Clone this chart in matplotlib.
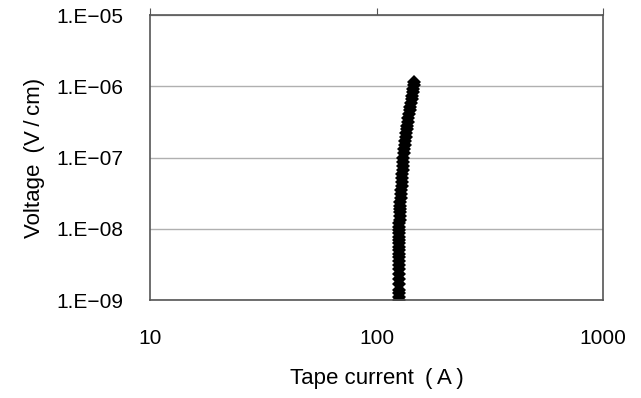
import numpy as np
import matplotlib
matplotlib.use('Agg')
import matplotlib.pyplot as plt
from matplotlib.ticker import NullLocator

# Latin text in an Arial-like face, CJK font as fallback for odd spaces
plt.rcParams['font.family'] = ['Liberation Sans', 'Noto Sans CJK JP']

# V-I data (voltage in V/cm, current in A)
voltage = [
    1.0e-9, 1.1e-9, 1.25e-9, 1.4e-9, 1.7e-9, 2.0e-9, 2.3e-9, 2.7e-9,
    3.1e-9, 3.5e-9, 4.0e-9, 4.5e-9, 5.0e-9, 5.6e-9, 6.3e-9, 7.0e-9,
    7.8e-9, 8.7e-9, 9.6e-9, 1.07e-8, 1.2e-8, 1.35e-8, 1.5e-8, 1.7e-8,
    1.9e-8, 2.1e-8, 2.4e-8, 2.7e-8, 3.1e-8, 3.5e-8, 4.0e-8, 4.5e-8,
    5.1e-8, 5.8e-8, 6.6e-8, 7.6e-8, 8.7e-8, 1.0e-7, 1.15e-7, 1.3e-7,
    1.5e-7, 1.7e-7, 1.95e-7, 2.2e-7, 2.5e-7, 2.8e-7, 3.2e-7, 3.6e-7,
    4.1e-7, 4.6e-7, 5.2e-7, 5.9e-7, 6.6e-7, 7.4e-7, 8.3e-7, 9.3e-7,
    1.05e-6, 1.15e-6,
]
current = [
    125.0, 125.0, 125.1, 125.0, 125.1, 125.1, 125.2, 125.2,
    125.2, 125.3, 125.3, 125.4, 125.5, 125.5, 125.6, 125.7,
    125.8, 125.9, 126.0, 126.1, 126.2, 126.4, 126.6, 126.8,
    127.0, 127.2, 127.5, 127.9, 128.3, 128.6, 129.0, 129.4,
    129.8, 130.1, 130.5, 130.9, 131.2, 131.4, 131.9, 132.4,
    133.1, 133.8, 134.6, 135.4, 136.1, 136.7, 137.5, 138.3,
    139.3, 140.3, 141.1, 142.1, 142.8, 143.5, 144.4, 145.2,
    146.0, 146.6,
]

x_ticks = [10, 100, 1000]
x_labels = ['10', '100', '1000']
y_ticks = [1e-9, 1e-8, 1e-7, 1e-6, 1e-5]
y_labels = ['1.E\u221209', '1.E\u221208', '1.E\u221207', '1.E\u221206',
            '1.E\u221205']


def main():
    fig = plt.figure(figsize=(6.41, 3.98), dpi=100)
    ax = fig.add_axes([0.234, 0.246, 0.707, 0.716])

    ax.plot(current, voltage, linestyle='', marker='D', markersize=7,
            color='black', markeredgewidth=0)

    ax.set_xscale('log')
    ax.set_yscale('log')
    ax.set_xlim(10, 1000)
    ax.set_ylim(1e-9, 1e-5)

    ax.set_xticks(x_ticks)
    ax.set_xticklabels(x_labels)
    ax.xaxis.set_minor_locator(NullLocator())
    ax.set_yticks(y_ticks)
    ax.set_yticklabels(y_labels)
    ax.yaxis.set_minor_locator(NullLocator())

    # Excel style: x ticks outward on top, labels well below the plot
    ax.tick_params(axis='x', which='major', top=True, bottom=False,
                   direction='out', length=5, color='#555555',
                   labelsize=15, pad=16)
    ax.tick_params(axis='y', which='major', left=False, right=False,
                   labelsize=15, pad=15.5)

    ax.yaxis.grid(True, color='#b0b0b0', linewidth=1.0)
    ax.set_axisbelow(True)
    for side in ('left', 'right', 'top', 'bottom'):
        ax.spines[side].set_color('#555555')
        ax.spines[side].set_linewidth(1.2)

    ax.set_xlabel('Tape current\u2002(\u2009A\u2009)', fontsize=16,
                  labelpad=14)
    ax.set_ylabel('Voltage\u2002(V\u2009/\u2009cm)', fontsize=16,
                  labelpad=8)

    fig.savefig('out.png', dpi=100)
    plt.close()


if __name__ == '__main__':
    main()
